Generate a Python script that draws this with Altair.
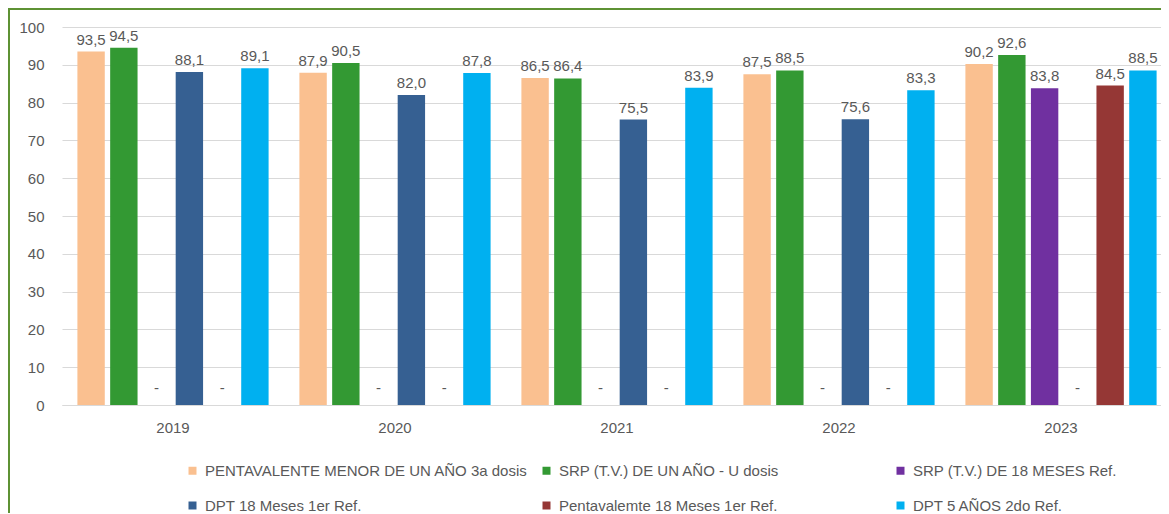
import altair as alt
import pandas as pd

years = ["2019", "2020", "2021", "2022", "2023"]
series = [
    "PENTAVALENTE MENOR DE UN AÑO 3a dosis",
    "SRP (T.V.) DE UN AÑO - U dosis",
    "SRP (T.V.) DE 18 MESES Ref.",
    "DPT 18 Meses 1er Ref.",
    "Pentavalemte 18 Meses 1er Ref.",
    "DPT 5 AÑOS 2do Ref.",
]
colors = ["#FAC090", "#339933", "#7030A0", "#366092", "#953735", "#00B0F0"]

pentavalente = [93.5, 87.9, 86.5, 87.5, 90.2]
srp_un_ano = [94.5, 90.5, 86.4, 88.5, 92.6]
srp_18 = [None, None, None, None, 83.8]
dpt_18 = [88.1, 82.0, 75.5, 75.6, None]
penta_18 = [None, None, None, None, 84.5]
dpt_5 = [89.1, 87.8, 83.9, 83.3, 88.5]

all_values = [pentavalente, srp_un_ano, srp_18, dpt_18, penta_18, dpt_5]

rows = []
for s, vals in zip(series, all_values):
    for y, v in zip(years, vals):
        rows.append({
            "year": y,
            "series": s,
            "value": 0 if v is None else v,
            "label": "-" if v is None else f"{v:.1f}".replace(".", ","),
            "missing": v is None,
        })
df = pd.DataFrame(rows)

# legend laid out column by column (2 rows x 3 columns), so reorder the legend domain
legend_order = [0, 3, 1, 4, 2, 5]
legend_domain = [series[i] for i in legend_order]
legend_range = [colors[i] for i in legend_order]

FONT = "Liberation Sans"
GREY = "#595959"

base = alt.Chart(df).encode(
    x=alt.X("year:N", sort=years,
            scale=alt.Scale(paddingInner=0, paddingOuter=0),
            axis=alt.Axis(title=None, labelAngle=0, ticks=False, tickSize=0,
                          labelPadding=15, domainColor="#D9D9D9", grid=False,
                          labelColor=GREY, labelFontSize=15, labelFont=FONT)),
    xOffset=alt.XOffset("series:N", sort=series,
                        scale=alt.Scale(paddingInner=0.164, paddingOuter=0.47)),
    y=alt.Y("value:Q", scale=alt.Scale(domain=[0, 100], nice=False),
            axis=alt.Axis(title=None, values=list(range(0, 101, 10)), domain=False,
                          ticks=False, tickSize=0, labelPadding=18,
                          gridColor="#D9D9D9", labelColor=GREY,
                          labelFontSize=15, labelFont=FONT)),
)

bars = base.mark_bar().encode(
    color=alt.Color("series:N",
                    scale=alt.Scale(domain=legend_domain, range=legend_range),
                    legend=alt.Legend(title=None, orient="none", legendX=123, legendY=436,
                                      columns=3, gridAlign="all", columnPadding=11,
                                      rowPadding=19, symbolType="square", symbolSize=64,
                                      symbolStrokeWidth=0, labelOffset=5,
                                      labelFontSize=15, labelFont=FONT, labelColor=GREY,
                                      labelLimit=400, padding=0))
)

labels = base.mark_text(baseline="alphabetic", dy=-7, fontSize=15, font=FONT,
                        color=GREY).encode(text="label:N").transform_filter("!datum.missing")
dashes = base.mark_text(baseline="alphabetic", dy=-12, fontSize=15, font=FONT,
                        color=GREY).encode(text="label:N").transform_filter("datum.missing")

frame = alt.Chart(pd.DataFrame({"f": [1]})).mark_rect(
    fillOpacity=0, stroke="#5E9234", strokeWidth=2
).encode(x=alt.value(-53), x2=alt.value(1300), y=alt.value(-18), y2=alt.value(700))

chart = alt.layer(frame, bars, labels, dashes).properties(
    width=1110, height=378,
    autosize=alt.AutoSizeParams(type="none"),
    padding={"left": 54, "top": 19, "right": -11, "bottom": 108},
    background="white",
).configure_view(stroke=None)

chart.save("out.html", embed_options={"renderer": "svg", "actions": False})
